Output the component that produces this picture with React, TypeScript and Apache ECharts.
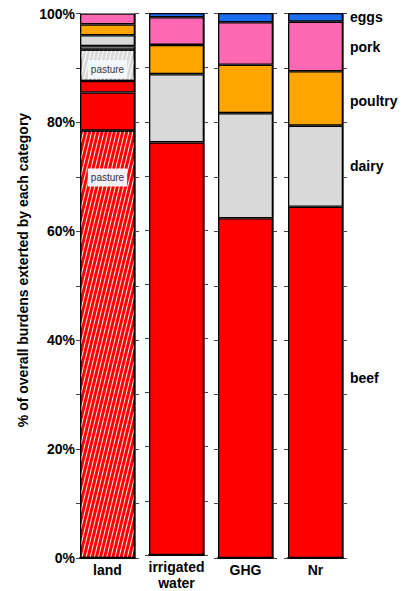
import React, { useEffect, useRef } from "react";
import * as echarts from "echarts";

const categories = ["land", "irrigated\nwater", "GHG", "Nr"];
const beefPasture = [78.5, 0, 0, 0];
const beef = [7.0, 76.2, 62.4, 64.5];
const beefOther = [2.1, 0, 0, 0];
const dairyPasture = [5.8, 0, 0, 0];
const dairyOther = [0.6, 0, 0, 0];
const dairy = [2.0, 12.6, 19.3, 14.9];
const poultry = [2.0, 5.4, 8.9, 10.0];
const pork = [2.0, 5.1, 7.8, 9.1];
const eggs = [0, 0.8, 1.7, 1.6];
const yTicks = [0, 20, 40, 60, 80, 100];
const yTitle = "% of overall burdens exterted by each category";

const FONT = "Liberation Sans, Arial, Helvetica, sans-serif";

const segments = [
  { values: beefPasture, color: "#ff0000", hatch: true, inner: "pasture", innerPos: "insideTop", innerDist: 38, innerOffset: [0, 0] },
  { values: beef, color: "#ff0000", right: "beef", rightOffset: [0, -4] },
  { values: beefOther, color: "#ff0000" },
  { values: dairyPasture, color: "#d9d9d9", hatch: true, inner: "pasture", innerPos: "inside", innerDist: 0, innerOffset: [0, 4] },
  { values: dairyOther, color: "#e2e2e2" },
  { values: dairy, color: "#d9d9d9", right: "dairy", rightOffset: [0, 0] },
  { values: poultry, color: "#ffa500", right: "poultry", rightOffset: [0, 3] },
  { values: pork, color: "#ff69b4", right: "pork", rightOffset: [0, 1] },
  { values: eggs, color: "#1c6df0", right: "eggs", rightOffset: [0, 0] },
];

const gridLefts = [80, 149, 218, 288];
const barW = 55;

export default function App() {
  const ref = useRef<HTMLDivElement>(null);
  useEffect(() => {
    if (!ref.current) return;
    const chart = echarts.init(ref.current, undefined, { renderer: "svg" });
    const grids: any[] = [];
    const xAxes: any[] = [];
    const yAxes: any[] = [];
    const series: any[] = [];
    categories.forEach((cat, i) => {
      grids.push({ left: gridLefts[i], width: barW, top: 13.5, bottom: 33, containLabel: false });
      xAxes.push({
        type: "category",
        gridIndex: i,
        data: [cat],
        axisLine: { lineStyle: { color: "#000", width: 2 } },
        axisTick: { show: false },
        axisLabel: { fontSize: 14, fontWeight: "bold", color: "#000", margin: 4, lineHeight: 16, fontFamily: FONT },
      });
      ["left", "right"].forEach((pos, k) => {
        yAxes.push({
          type: "value",
          gridIndex: i,
          position: pos,
          min: 0,
          max: 100,
          interval: 10,
          splitLine: { show: false },
          axisLine: { show: true, lineStyle: { color: "#555", width: 1 } },
          axisTick: { show: true, inside: false, length: 4, lineStyle: { color: "#444", width: 1 } },
          axisLabel: {
            show: i === 0 && k === 0,
            fontSize: 14,
            fontWeight: "bold",
            color: "#000",
            margin: 5,
            fontFamily: FONT,
            formatter: (v: number) => (yTicks.includes(v) ? v + "%" : ""),
          },
        });
      });
      segments.forEach((s) => {
        const v = s.values[i];
        if (!(v > 0)) return;
        const itemStyle: any = { color: s.color, borderColor: "#000", borderWidth: 1.3 };
        if (s.hatch) {
          itemStyle.decal = {
            symbol: "rect",
            symbolSize: 1,
            dashArrayX: [1, 0],
            dashArrayY: [1, 3],
            rotation: -1.33,
            color: "rgba(255,255,255,0.95)",
          };
        }
        let label: any = { show: false };
        if (s.inner && i === 0) {
          label = {
            show: true,
            position: s.innerPos,
            distance: s.innerDist,
            offset: s.innerOffset,
            formatter: s.inner,
            fontSize: 10,
            fontFamily: FONT,
            color: "#333",
            backgroundColor: "rgba(244,249,254,0.96)",
            padding: [3, 3],
            lineHeight: 12,
          };
        } else if (s.right && i === categories.length - 1) {
          label = {
            show: true,
            position: "right",
            distance: 7,
            offset: s.rightOffset,
            formatter: s.right,
            fontSize: 14,
            fontWeight: "bold",
            fontFamily: FONT,
            color: "#000",
          };
        }
        series.push({
          type: "bar",
          xAxisIndex: i,
          yAxisIndex: 2 * i,
          stack: "stack" + i,
          barWidth: "100%",
          data: [v],
          itemStyle,
          label,
          emphasis: { disabled: true },
        });
      });
    });
    chart.setOption({
      animation: false,
      textStyle: { fontFamily: FONT },
      grid: grids,
      xAxis: xAxes,
      yAxis: yAxes,
      series,
      graphic: [
        {
          type: "text",
          x: 22.5,
          y: 270,
          rotation: Math.PI / 2,
          style: {
            text: yTitle,
            fontSize: 14,
            fontWeight: "bold",
            fontFamily: FONT,
            fill: "#000",
            textAlign: "center",
            textVerticalAlign: "middle",
          },
        },
      ],
    });
    return () => chart.dispose();
  }, []);
  return <div ref={ref} style={{ position: "absolute", left: 0, top: 0, width: 402, height: 591 }} />;
}
